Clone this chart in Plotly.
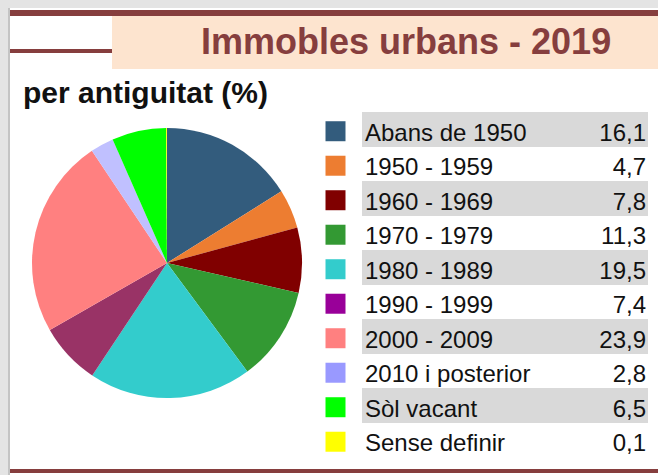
import plotly.graph_objects as go

W, H = 658, 475

categories = ["Abans de 1950", "1950 - 1959", "1960 - 1969", "1970 - 1979", "1980 - 1989",
              "1990 - 1999", "2000 - 2009", "2010 i posterior", "Sòl vacant", "Sense definir"]
values = [16.1, 4.7, 7.8, 11.3, 19.5, 7.4, 23.9, 2.8, 6.5, 0.1]
pie_colors = ["#335C7D", "#ED7D31", "#800000", "#339933", "#33CCCC",
              "#993366", "#FF8080", "#C0C0FF", "#00FF00", "#FFFF00"]
legend_colors = ["#335C7D", "#ED7D31", "#800000", "#339933", "#33CCCC",
                 "#990099", "#FF8080", "#9999FF", "#00FF00", "#FFFF00"]
value_labels = [f"{v:.1f}".replace(".", ",") for v in values]

BROWN = "#863E3E"
FONT = "Liberation Sans, Arial, sans-serif"


def px(x):
    return x / W


def py(y):
    return 1 - y / H


fig = go.Figure()

# Pie
cx, cy, r = 167, 263, 135
fig.add_trace(go.Pie(
    labels=categories, values=values, sort=False, direction="clockwise", rotation=0,
    marker=dict(colors=pie_colors, line=dict(width=0)),
    textinfo="none", showlegend=False,
    domain=dict(x=[px(cx - r), px(cx + r)], y=[py(cy + r), py(cy - r)]),
))

rows = list(range(len(categories)))
band_rows = [i for i in rows if i % 2 == 0]

# gray bands
fig.add_trace(go.Bar(
    y=band_rows, x=[286] * len(band_rows), base=[362] * len(band_rows), orientation="h",
    width=1.0, marker=dict(color="#D9D9D9", line=dict(width=0)),
    showlegend=False, hoverinfo="skip", xaxis="x", yaxis="y",
))
# squares
fig.add_trace(go.Scatter(
    x=[335.5] * len(rows), y=[i + 0.05 for i in rows], mode="markers",
    marker=dict(symbol="square", size=20, color=legend_colors, line=dict(width=0)),
    showlegend=False, hoverinfo="skip",
))
# labels
fig.add_trace(go.Scatter(
    x=[365] * len(rows), y=[i + 0.15 for i in rows], mode="text", text=categories,
    textposition="middle right", textfont=dict(family=FONT, size=24, color="#111111"),
    showlegend=False, hoverinfo="skip",
))
# values
fig.add_trace(go.Scatter(
    x=[646] * len(rows), y=[i + 0.15 for i in rows], mode="text", text=value_labels,
    textposition="middle left", textfont=dict(family=FONT, size=24, color="#111111"),
    showlegend=False, hoverinfo="skip",
))

y0_pix, pitch = 129.5, 34.5
fig.update_layout(
    width=W, height=H, margin=dict(l=0, r=0, t=0, b=0),
    paper_bgcolor="white", plot_bgcolor="rgba(0,0,0,0)",
    xaxis=dict(range=[0, W], visible=False, fixedrange=True),
    yaxis=dict(range=[(H - y0_pix) / pitch, -y0_pix / pitch], visible=False, fixedrange=True),
    bargap=0,
)

shapes = [
    # frame shadow
    dict(type="rect", xref="paper", yref="paper", x0=0, x1=px(8), y0=0, y1=1,
         fillcolor="#E4E4E4", line=dict(width=0), layer="below"),
    dict(type="rect", xref="paper", yref="paper", x0=px(8), x1=px(10), y0=0, y1=py(8),
         fillcolor="#C4C4C4", line=dict(width=0), layer="below"),
    dict(type="rect", xref="paper", yref="paper", x0=0, x1=1, y0=py(8), y1=1,
         fillcolor="#E4E4E4", line=dict(width=0), layer="below"),
    # title box
    dict(type="rect", xref="paper", yref="paper", x0=px(112), x1=1, y0=py(69), y1=py(16),
         fillcolor="#FDE4CF", line=dict(width=0), layer="below"),
    # brown lines
    dict(type="rect", xref="paper", yref="paper", x0=px(10), x1=1, y0=py(16), y1=py(10),
         fillcolor=BROWN, line=dict(width=0)),
    dict(type="rect", xref="paper", yref="paper", x0=px(10), x1=px(112), y0=py(53), y1=py(49),
         fillcolor=BROWN, line=dict(width=0)),
    dict(type="rect", xref="paper", yref="paper", x0=px(10), x1=1, y0=py(473), y1=py(469),
         fillcolor=BROWN, line=dict(width=0)),
]
fig.update_layout(shapes=shapes)

fig.add_annotation(
    text="<b>Immobles urbans - 2019</b>", xref="paper", yref="paper",
    x=px(406), y=py(41), xanchor="center", yanchor="middle", showarrow=False,
    font=dict(family=FONT, size=36, color=BROWN),
)
fig.add_annotation(
    text="<b>per antiguitat (%)</b>", xref="paper", yref="paper",
    x=px(21), y=py(92), xanchor="left", yanchor="middle", showarrow=False,
    font=dict(family=FONT, size=30, color="#111111"),
)

fig.write_html(
    "out.html",
    config={"displayModeBar": False},
    post_script="document.body.style.margin='0';document.body.style.overflow='hidden';",
)
